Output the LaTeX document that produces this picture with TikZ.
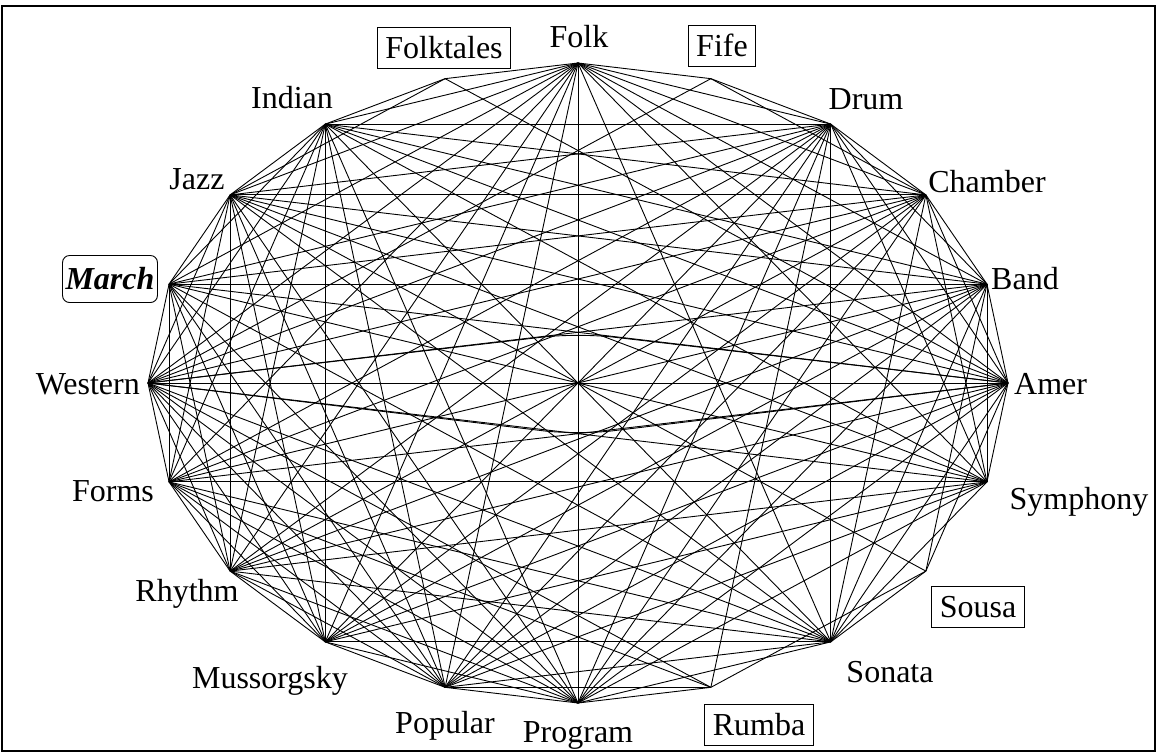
\documentclass[tikz,border=0pt]{standalone}
\usepackage{fontspec}
\setmainfont{Liberation Serif}
\begin{document}
\begin{tikzpicture}[x=1pt,y=-1pt,
  edge/.style={line width=0.9pt},
  lbl/.style={inner sep=0pt,anchor=base,font=\fontsize{32}{38}\selectfont},
  boxlbl/.style={draw,line width=0.9pt,inner xsep=8pt,inner ysep=8pt,
    text height=23pt,text depth=2pt,font=\fontsize{32}{38}\selectfont},
  focuslbl/.style={draw,line width=0.9pt,rounded corners=7pt,inner xsep=3pt,inner ysep=11pt,
    text height=23pt,text depth=2pt,font=\fontsize{32}{38}\selectfont\bfseries\itshape}]
\useasboundingbox (0,0) rectangle (1157,753);
\draw[line width=2pt] (2,6) rectangle (1155,751);
% vertices on an ellipse, one every 18 degrees, counter-clockwise from the right
\foreach \k in {0,...,19}{
  \coordinate (v\k) at ({578+430*cos(18*\k)},{383-320*sin(18*\k)});
}
% labels (plain ones placed by their baseline)
\node[lbl,anchor=base west] (lAmer) at (1014,394) {Amer};
\node[lbl,anchor=base west] (lBand) at (991,289) {Band};
\node[lbl] (lChamber) at (987,192) {Chamber};
\node[lbl] (lDrum) at (866,109) {Drum};
\node[boxlbl] (lFife) at (722,46) {Fife};
\node[lbl] (lFolk) at (579,47) {Folk};
\node[boxlbl] (lFolktales) at (444,48) {Folktales};
\node[lbl] (lIndian) at (292,108) {Indian};
\node[lbl] (lJazz) at (197,189) {Jazz};
\node[focuslbl] (lMarch) at (110,279) {March};
\node[lbl,anchor=base east] (lWestern) at (140,394) {Western};
\node[lbl] (lForms) at (113,501) {Forms};
\node[lbl] (lRhythm) at (187,601) {Rhythm};
\node[lbl] (lMussorgsky) at (270,688) {Mussorgsky};
\node[lbl] (lPopular) at (445,733) {Popular};
\node[lbl] (lProgram) at (578,742) {Program};
\node[boxlbl] (lRumba) at (759,725) {Rumba};
\node[lbl] (lSonata) at (890,682) {Sonata};
\node[boxlbl] (lSousa) at (978,607) {Sousa};
\node[lbl] (lSymphony) at (1079,509) {Symphony};
% the sixteen unboxed terms are all linked to one another
\foreach \i in {0,1,2,3,5,7,8,9,10,11,12,13,14,15,17,19}{
  \foreach \j in {0,1,2,3,5,7,8,9,10,11,12,13,14,15,17,19}{
    \ifnum\i<\j \draw[edge] (v\i) -- (v\j); \fi
  }
}
% the boxed terms carry only a few links
\foreach \a/\b in {6/5,6/7,6/8,6/0,
                   4/5,4/3,4/10,4/2,
                   18/8,18/16,18/17,18/1,18/0,
                   16/14,16/15,16/3,16/10,16/11}{
  \draw[edge] (v\a) -- (v\b);
}
% Western and Amer are also joined by two edges bent around the middle
\draw[edge,rounded corners=35pt] (v10) -- (578,333) -- (v0);
\draw[edge,rounded corners=35pt] (v10) -- (578,435) -- (v0);
\end{tikzpicture}
\end{document}
